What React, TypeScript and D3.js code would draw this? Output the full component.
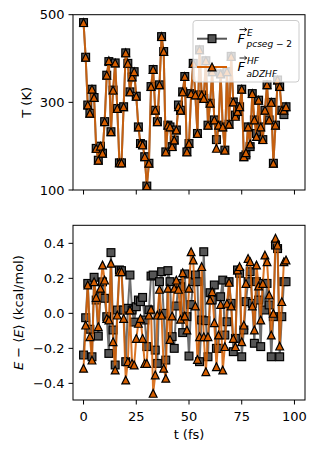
import React from "react";
import * as d3 from "d3";

// Temperature (K) per time step (1 fs)
const tempPcseg = [
  482, 403, 294, 275, 330, 311, 195, 168, 200, 184,
  256, 362, 393, 233, 328, 390, 286, 162, 162, 290,
  413, 389, 324, 358, 370, 314, 244, 206, 203, 176,
  109, 161, 336, 375, 282, 256, 340, 450, 416, 187,
  248, 244, 199, 214, 237, 294, 282, 324, 359, 187,
  206, 320, 389, 317, 229, 420, 317, 309, 395, 248,
  298, 370, 260, 215, 248, 365, 244, 191, 370, 250,
  405, 301, 271, 279, 290, 330, 176, 180, 244, 199,
  320, 260, 229, 305, 244, 215, 282, 340, 260, 300,
  161, 248, 351, 336, 282, 272, 290,
];
const tempAdz = [
  482, 403, 294, 275, 330, 311, 195, 168, 200, 184,
  256, 362, 395, 233, 328, 390, 286, 162, 162, 290,
  413, 389, 324, 358, 370, 314, 244, 206, 203, 176,
  109, 161, 336, 375, 282, 256, 340, 450, 416, 187,
  248, 244, 199, 214, 237, 290, 282, 324, 359, 187,
  206, 320, 389, 317, 229, 420, 317, 309, 395, 248,
  298, 370, 260, 195, 248, 365, 244, 191, 370, 250,
  405, 301, 268, 279, 290, 330, 176, 185, 244, 205,
  320, 260, 222, 305, 244, 215, 282, 340, 260, 300,
  161, 248, 351, 336, 282, 282, 290,
];

// E - <E> (kcal/mol)
const energyPcseg = [
  -0.238, -0.025, 0.171, -0.091, -0.248, 0.206, 0.076, -0.13, 0.095, 0.18,
  0.086, -0.019, -0.229, 0.347, -0.095, -0.295, 0.019, 0.248, 0.244, 0.019,
  -0.276, 0.029, 0.219, 0.019, -0.05, 0.038, 0.076, 0.067, 0.091, -0.038,
  -0.19, 0.02, 0.213, 0.219, -0.21, -0.286, 0.181, 0.238, 0.0, -0.267,
  0.244, 0.181, -0.133, -0.2, 0.042, 0.171, 0.152, -0.11, 0.225, -0.019,
  -0.244, 0.05, 0.181, 0.219, 0.181, -0.276, -0.038, 0.352, -0.042, -0.248,
  0.118, 0.076, 0.162, -0.2, -0.2, 0.095, 0.19, -0.124, -0.048, 0.181,
  0.057, -0.219, -0.143, 0.248, 0.229, -0.248, -0.095, 0.067, 0.181, 0.238,
  0.057, -0.171, 0.181, 0.076, -0.19, 0.171, 0.019, 0.171, 0.048, -0.248,
  -0.019, 0.39, 0.37, -0.248, -0.019, 0.181, 0.181,
];
const energyAdz = [
  -0.314, -0.067, 0.162, -0.133, -0.267, 0.181, 0.091, -0.076, 0.143, 0.276,
  0.19, -0.029, -0.038, 0.286, -0.162, -0.324, -0.01, 0.238, 0.238, -0.029,
  -0.381, -0.276, 0.019, -0.286, -0.295, -0.143, -0.057, -0.029, -0.143, -0.286,
  -0.286, -0.01, 0.023, -0.457, -0.352, -0.01, 0.137, -0.01, -0.314, -0.371,
  0.143, -0.149, -0.015, 0.143, 0.19, 0.137, -0.034, 0.232, -0.015, -0.095,
  0.143, 0.352, 0.305, 0.042, -0.263, -0.133, 0.267, -0.133, -0.333, -0.133,
  0.076, 0.124, -0.053, -0.305, -0.124, 0.051, -0.324, -0.19, 0.057, 0.177,
  0.042, -0.143, -0.19, 0.248, 0.267, -0.162, -0.067, 0.171, 0.314, 0.295,
  0.042, -0.095, 0.276, 0.156, -0.038, 0.171, 0.333, 0.295, 0.105, -0.124,
  0.0, 0.429, 0.39, -0.187, 0.067, 0.295, 0.305,
];

const timeStepFs = 1;
const xTicks = [0, 25, 50, 75, 100];
const tTicks = [100, 300, 500];
const eTicks = [-0.4, -0.2, 0.0, 0.2, 0.4];

const GRAY = "#555555";
const ORANGE = "#d55e00";
const FONT = "DejaVu Sans";
const FS = 13;
const MS = 7.8;

function Square({ cx, cy }: { cx: number; cy: number }) {
  return (
    <rect x={cx - MS / 2} y={cy - MS / 2} width={MS} height={MS} fill={GRAY} stroke="#000" strokeWidth={1.2} />
  );
}
function Tri({ cx, cy }: { cx: number; cy: number }) {
  const h = MS / 2;
  return (
    <path d={`M${cx},${cy - h}L${cx + h},${cy + h}L${cx - h},${cy + h}Z`} fill={ORANGE} stroke="#000" strokeWidth={1.2} strokeLinejoin="miter" />
  );
}

export default function App() {
  const L = 73, R = 305;
  const x = d3.scaleLinear().domain([-5, 105]).range([L, R]);
  const top = { t: 14.7, b: 190 };
  const bot = { t: 225.3, b: 400 };
  const yT = d3.scaleLinear().domain([100, 500]).range([top.b, top.t]);
  const yE = d3.scaleLinear().domain([-0.495, 0.503]).range([bot.b, bot.t]);
  const fmtE = d3.format(".1f");

  const lineT = d3.line<number>().x((_, i) => x(i * timeStepFs)).y((d) => yT(d));
  const lineE = d3.line<number>().x((_, i) => x(i * timeStepFs)).y((d) => yE(d));

  const series = (
    data: number[],
    y: (v: number) => number,
    line: d3.Line<number>,
    color: string,
    marker: "s" | "t"
  ) => (
    <g>
      <path d={line(data) || ""} fill="none" stroke={color} strokeWidth={2} strokeOpacity={0.85} strokeLinejoin="round" />
      {data.map((d, i) =>
        marker === "s" ? (
          <Square key={i} cx={x(i * timeStepFs)} cy={y(d)} />
        ) : (
          <Tri key={i} cx={x(i * timeStepFs)} cy={y(d)} />
        )
      )}
    </g>
  );

  const frame = (t: number, b: number) => (
    <rect x={L} y={t} width={R - L} height={b - t} fill="none" stroke="#000" strokeWidth={1} />
  );

  return (
    <svg width={318} height={453} style={{ position: "absolute", left: 0, top: 0 }} fontFamily={FONT}>
      <rect width={318} height={453} fill="#fff" />
      <defs>
        <clipPath id="cTop">
          <rect x={L} y={top.t} width={R - L} height={top.b - top.t} />
        </clipPath>
        <clipPath id="cBot">
          <rect x={L} y={bot.t} width={R - L} height={bot.b - bot.t} />
        </clipPath>
      </defs>

      {/* Top panel */}
      <g clipPath="url(#cTop)">
        {series(tempPcseg, yT, lineT, GRAY, "s")}
        {series(tempAdz, yT, lineT, ORANGE, "t")}
      </g>
      {frame(top.t, top.b)}
      {xTicks.map((v) => (
        <line key={v} x1={x(v)} x2={x(v)} y1={top.b} y2={top.b + 4.5} stroke="#000" strokeWidth={1} />
      ))}
      {tTicks.map((v) => (
        <g key={v}>
          <line x1={L - 4.5} x2={L} y1={yT(v)} y2={yT(v)} stroke="#000" strokeWidth={1} />
          <text x={L - 8.5} y={yT(v) + 4.7} textAnchor="end" fontSize={FS}>{v}</text>
        </g>
      ))}
      <text transform={`translate(26.5,${(top.t + top.b) / 2}) rotate(-90)`} textAnchor="middle" dominantBaseline="central" fontSize={FS}>
        T (K)
      </text>

      {/* Legend */}
      <g>
        <rect x={193} y={20.5} width={106} height={61.5} rx={3} fill="#fff" fillOpacity={0.8} stroke="#cccccc" strokeWidth={1} />
        <line x1={197} x2={227} y1={38.7} y2={38.7} stroke={GRAY} strokeWidth={2} />
        <Square cx={212} cy={38.7} />
        <line x1={197} x2={227} y1={67} y2={67} stroke={ORANGE} strokeWidth={2} />
        <Tri cx={212} cy={67} />
        <path d="M239.5,29.6L246.5,29.6M244.5,27.9L246.8,29.6L244.5,31.3" fill="none" stroke="#000" strokeWidth={0.9} />
        <text fontSize={FS}>
          <tspan x={237.5} y={43} fontStyle="italic">F</tspan>
          <tspan x={247} y={36.2} fontSize={9} fontStyle="italic">E</tspan>
          <tspan x={246.5} y={47.2} fontSize={9}>
            <tspan fontStyle="italic">pcseg</tspan> − 2
          </tspan>
        </text>
        <path d="M239.5,58L246.5,58M244.5,56.3L246.8,58L244.5,59.7" fill="none" stroke="#000" strokeWidth={0.9} />
        <text fontSize={FS}>
          <tspan x={237.5} y={71.3} fontStyle="italic">F</tspan>
          <tspan x={247} y={63.6} fontSize={9} fontStyle="italic">HF</tspan>
          <tspan x={246.5} y={77} fontSize={9} fontStyle="italic">aDZHF</tspan>
        </text>
      </g>

      {/* Bottom panel */}
      <g clipPath="url(#cBot)">
        {series(energyPcseg, yE, lineE, GRAY, "s")}
        {series(energyAdz, yE, lineE, ORANGE, "t")}
      </g>
      {frame(bot.t, bot.b)}
      {xTicks.map((v) => (
        <g key={v}>
          <line x1={x(v)} x2={x(v)} y1={bot.b} y2={bot.b + 4.5} stroke="#000" strokeWidth={1} />
          <text x={x(v)} y={420.5} textAnchor="middle" fontSize={FS}>{v}</text>
        </g>
      ))}
      {eTicks.map((v) => (
        <g key={v}>
          <line x1={L - 4.5} x2={L} y1={yE(v)} y2={yE(v)} stroke="#000" strokeWidth={1} />
          <text x={L - 8.5} y={yE(v) + 4.7} textAnchor="end" fontSize={FS}>{fmtE(v)}</text>
        </g>
      ))}
      <text transform={`translate(18,${(bot.t + bot.b) / 2}) rotate(-90)`} textAnchor="middle" dominantBaseline="central" fontSize={FS}>
        <tspan fontStyle="italic">E</tspan> − ⟨<tspan fontStyle="italic">E</tspan>⟩ (kcal/mol)
      </text>
      <text x={(L + R) / 2} y={439} textAnchor="middle" fontSize={FS}>t (fs)</text>
    </svg>
  );
}
